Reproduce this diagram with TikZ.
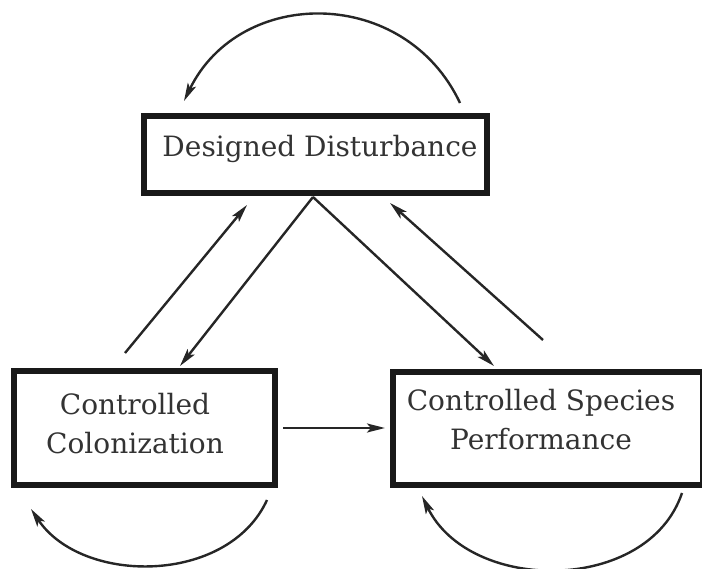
\documentclass[tikz,border=0pt]{standalone}
\usepackage{fontspec}
\setmainfont{DejaVu Serif}
\usetikzlibrary{arrows.meta}
\begin{document}
\begin{tikzpicture}[x=1pt,y=-1pt,
  boxnode/.style={draw=black!90, line width=5.5pt, rectangle, inner sep=0pt},
  txt/.style={font=\fontsize{28}{39}\selectfont, align=center, inner sep=0pt, text=black!80},
  conn/.style={draw=black!85, line width=2.4pt, -{Stealth[length=18pt,width=9pt,inset=4pt]}}]
\useasboundingbox (0,0) rectangle (702,569);
% boxes
\node[boxnode, minimum width=343pt, minimum height=77pt] (dd) at (315.5,154.5) {};
\node[boxnode, minimum width=261pt, minimum height=114pt] (cc) at (144.5,428) {};
\node[boxnode, minimum width=310pt, minimum height=113pt] (csp) at (548,428.5) {};
% texts
\node[txt, anchor=base] (ddt) at (320,157) {Designed Disturbance};
\node[txt] (cct) at (135,424) {Controlled\\Colonization};
\node[txt] (cspt) at (541,420) {Controlled Species\\Performance};
% connector end points
\coordinate (ddapex) at (313,197);
\coordinate (ddin1) at (247,205);
\coordinate (ddin2) at (390,203);
\coordinate (ccout) at (125,353);
\coordinate (ccin) at (180,366);
\coordinate (cspin) at (494,366);
\coordinate (cspout) at (543,340);
\coordinate (ccright) at (283,428);
\coordinate (cspleft) at (385,428);
\coordinate (ddl1) at (460,103);
\coordinate (ddl2) at (184,101);
\coordinate (ccl1) at (267,500);
\coordinate (ccl2) at (31,509);
\coordinate (cspl1) at (682,493);
\coordinate (cspl2) at (422,496);
% connectors
\draw[conn] (ccout) -- (ddin1);
\draw[conn] (ddapex) -- (ccin);
\draw[conn] (ddapex) -- (cspin);
\draw[conn] (cspout) -- (ddin2);
\draw[conn] (ccright) -- (cspleft);
\draw[conn] (ddl1) .. controls (405,-14) and (240,-14) .. (ddl2);
\draw[conn] (ccl1) .. controls (228,585) and (82,585) .. (ccl2);
\draw[conn] (cspl1) .. controls (648,594) and (470,594) .. (cspl2);
\end{tikzpicture}
\end{document}
